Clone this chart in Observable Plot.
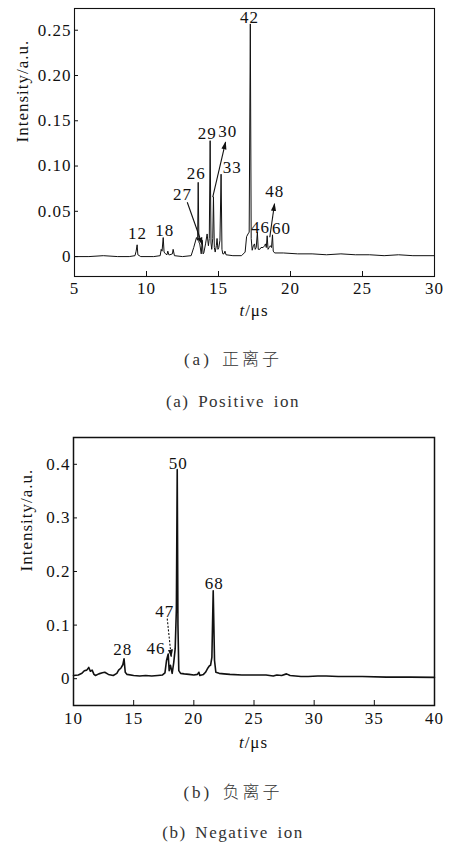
<!DOCTYPE html>
<html><head><meta charset="utf-8">
<script src="https://cdn.jsdelivr.net/npm/d3@7"></script>
<script src="https://cdn.jsdelivr.net/npm/@observablehq/plot@0.6"></script>
<style>
body{margin:0;background:#fff;width:452px;height:844px;position:relative;overflow:hidden;font-family:"Liberation Serif","Times New Roman","DejaVu Serif",serif}
#a,#b{position:absolute;left:0}
#a{top:0}#b{top:420px}
svg text{letter-spacing:1px}
.xl{position:absolute;left:74px;width:360px;text-align:center;font-size:17px;line-height:20px;color:#111;letter-spacing:1px}
.cap{position:absolute;left:0;width:466px;text-align:center;color:#333;font-size:17px;line-height:20px;letter-spacing:1.5px;word-spacing:3px}
.zh{font-family:"Liberation Serif","Times New Roman","Noto Sans CJK SC",serif;font-size:17px;letter-spacing:3px;font-weight:300}
</style></head>
<body>
<div id="a"></div>
<div id="b"></div>
<div class="xl" style="top:301px"><i>t</i>/μs</div>
<div class="cap zh" style="top:350px">(a) 正离子</div>
<div class="cap" style="top:392px">(a) Positive ion</div>
<div class="xl" style="top:733px;left:73px;width:361px"><i>t</i>/μs</div>
<div class="cap zh" style="top:783px">(b) 负离子</div>
<div class="cap" style="top:823px">(b) Negative ion</div>
<script>
// ---- Positive ion spectrum (a) ----
const posTime = [5.0,6.0,7.0,8.0,8.8,9.2,9.28,9.35,9.4,9.6,10.5,10.95,11.02,11.08,11.16,11.22,11.32,11.42,11.48,11.55,11.62,11.8,11.85,11.94,12.5,13.1,13.28,13.47,13.55,13.59,13.64,13.7,13.8,13.87,13.93,13.98,14.1,14.21,14.3,14.36,14.42,14.48,14.53,14.6,14.65,14.71,14.77,14.85,14.9,14.96,15.02,15.1,15.18,15.24,15.3,15.38,15.45,15.52,16.0,16.6,16.85,16.95,17.05,17.13,17.21,17.27,17.34,17.42,17.5,17.55,17.62,17.7,17.76,17.87,17.95,18.1,18.2,18.26,18.32,18.38,18.44,18.52,18.6,18.68,18.75,18.8,18.9,19.5,20.5,21.5,22.5,23.5,24.5,25.5,26.5,27.5,28.5,30.0];
const posIntensity = [0.000,0.000,0.001,0.000,0.000,0.001,0.006,0.013,0.002,0.000,0.000,0.001,0.008,0.006,0.021,0.005,0.003,0.002,0.006,0.002,0.002,0.003,0.008,0.001,0.000,0.001,0.010,0.021,0.018,0.082,0.016,0.014,0.003,0.018,0.003,0.004,0.014,0.025,0.012,0.020,0.128,0.015,0.008,0.020,0.066,0.010,0.005,0.012,0.020,0.008,0.010,0.018,0.091,0.008,0.003,0.003,0.006,0.002,0.001,0.001,0.005,0.022,0.025,0.027,0.257,0.020,0.007,0.012,0.014,0.008,0.010,0.027,0.008,0.008,0.010,0.010,0.012,0.014,0.010,0.023,0.008,0.010,0.012,0.010,0.024,0.006,0.004,0.004,0.003,0.003,0.002,0.003,0.002,0.002,0.001,0.002,0.001,0.001];
const posLabels = ["12","18","27","26","29","30","33","42","46","48","60"];
const posLabelT = [9.37,11.27,12.5,13.45,14.22,15.65,15.95,17.15,17.92,18.9,19.38];
const posLabelV = [0.025,0.029,0.069,0.092,0.136,0.138,0.098,0.264,0.032,0.072,0.031];
const posArrowT1 = [12.83,14.6,18.56];
const posArrowV1 = [0.060,0.0656,0.0214];
const posArrowT2 = [13.87,15.49,18.89];
const posArrowV2 = [0.0133,0.1264,0.0583];
const posXTicks = [5,10,15,20,25,30];
const posYTicks = [0,0.05,0.10,0.15,0.20,0.25];

// ---- Negative ion spectrum (b) ----
const negTime = [10.0,10.4,10.7,10.9,11.1,11.27,11.4,11.55,11.7,11.83,12.1,12.4,12.6,12.9,13.3,13.6,13.75,13.95,14.1,14.2,14.3,14.45,15.0,15.5,16.0,16.5,17.0,17.4,17.6,17.73,17.87,17.95,18.06,18.2,18.33,18.45,18.55,18.62,18.68,18.75,18.9,19.2,19.6,20.0,20.3,20.42,20.5,20.8,20.97,21.17,21.3,21.39,21.5,21.61,21.72,21.83,22.1,22.5,23.0,24.0,25.0,26.0,26.6,26.9,27.3,27.7,28.0,28.9,29.5,30.3,31.0,32.0,34.0,36.0,38.0,40.0];
const negIntensity = [0.006,0.007,0.010,0.015,0.016,0.021,0.014,0.016,0.008,0.006,0.009,0.011,0.012,0.008,0.006,0.010,0.016,0.020,0.026,0.037,0.012,0.008,0.006,0.005,0.006,0.005,0.006,0.007,0.011,0.034,0.046,0.015,0.025,0.010,0.030,0.056,0.13,0.390,0.10,0.015,0.010,0.009,0.008,0.007,0.008,0.012,0.006,0.008,0.012,0.020,0.024,0.025,0.040,0.164,0.034,0.012,0.010,0.009,0.008,0.007,0.007,0.007,0.005,0.007,0.006,0.009,0.006,0.004,0.004,0.005,0.005,0.004,0.004,0.003,0.003,0.0025];
const negLabels = ["28","46","47","50","68"];
const negLabelT = [14.1,16.86,17.58,18.71,21.7];
const negLabelV = [0.0545,0.056,0.125,0.401,0.177];
const negArrowT1 = [17.79];
const negArrowV1 = [0.112];
const negArrowT2 = [18.12];
const negArrowV2 = [0.041];
const negXTicks = [10,15,20,25,30,35,40];
const negYTicks = [0,0.1,0.2,0.3,0.4];

const FONT = "'Liberation Serif','Times New Roman','DejaVu Serif',serif";
const ink = "#111";

function triMarker(color) {
  const m = d3.create("svg:marker")
    .attr("viewBox", "-5 -5 10 10")
    .attr("refX", 4)
    .attr("markerWidth", 8)
    .attr("markerHeight", 8)
    .attr("markerUnits", "userSpaceOnUse")
    .attr("orient", "auto")
    .attr("fill", color)
    .attr("stroke", "none");
  m.append("path").attr("d", "M-5,-3.2L5,0L-5,3.2Z");
  return m.node();
}

function spectrum(opts) {
  const {time, inten, xDomain, yDomain, xTicks, yTicks, yFmt, labels, lt, lv, a1t, a1v, a2t, a2v, dashed, height, marginTop, marginLeft, lw, yLabelDx, xPad, frameW} = opts;
  return Plot.plot({
    width: 452, height, marginTop, marginLeft, marginRight: 18, marginBottom: 50,
    style: {fontFamily: FONT, fontSize: "17px", color: ink, background: "white"},
    x: {domain: xDomain},
    y: {domain: yDomain},
    marks: [
      Plot.line(time, {x: time, y: inten, stroke: ink, strokeWidth: lw, curve: "linear"}),
      Plot.link(a1t, {x1: a1t, y1: a1v, x2: a2t, y2: a2v, stroke: ink, strokeWidth: 1.1,
        strokeDasharray: dashed ? "2,1.6" : null, markerEnd: triMarker}),
      Plot.text(labels, {x: lt, y: lv, text: labels, fontSize: 17, fill: ink}),
      Plot.axisX({ticks: xTicks, tickSize: -5, text: null, label: null, stroke: ink}),
      Plot.axisX({ticks: xTicks, tickSize: 0, tickPadding: xPad, label: null, fontSize: 17, fill: ink}),
      Plot.axisY({ticks: yTicks, tickSize: -4, text: null, label: null, stroke: ink}),
      Plot.axisY({ticks: yTicks, tickSize: 0, tickPadding: 3, tickFormat: yFmt, label: null, fontSize: 17, fill: ink}),
      Plot.text(["Intensity/a.u."], {frameAnchor: "left", rotate: -90, dx: yLabelDx, fontSize: 17, fill: ink}),
      Plot.frame({stroke: ink, strokeWidth: frameW})
    ]
  });
}

document.getElementById("a").append(spectrum({
  time: posTime, inten: posIntensity, xDomain: [5, 30], yDomain: [-0.022, 0.274],
  xTicks: posXTicks, yTicks: posYTicks, yFmt: d => d === 0 ? "0" : d.toFixed(2),
  labels: posLabels, lt: posLabelT, lv: posLabelV,
  a1t: posArrowT1, a1v: posArrowV1, a2t: posArrowT2, a2v: posArrowV2, dashed: false,
  height: 326, marginTop: 8, marginLeft: 74, lw: 1, yLabelDx: -52, xPad: 5, frameW: 1.1
}));

document.getElementById("b").append(spectrum({
  time: negTime, inten: negIntensity, xDomain: [10, 40], yDomain: [-0.05, 0.45],
  xTicks: negXTicks, yTicks: negYTicks, yFmt: d => d === 0 ? "0" : d.toFixed(1),
  labels: negLabels, lt: negLabelT, lv: negLabelV,
  a1t: negArrowT1, a1v: negArrowV1, a2t: negArrowT2, a2v: negArrowV2, dashed: true,
  height: 335, marginTop: 17, marginLeft: 73, lw: 1.6, yLabelDx: -47, xPad: 6, frameW: 1.5
}));
</script>
</body></html>
